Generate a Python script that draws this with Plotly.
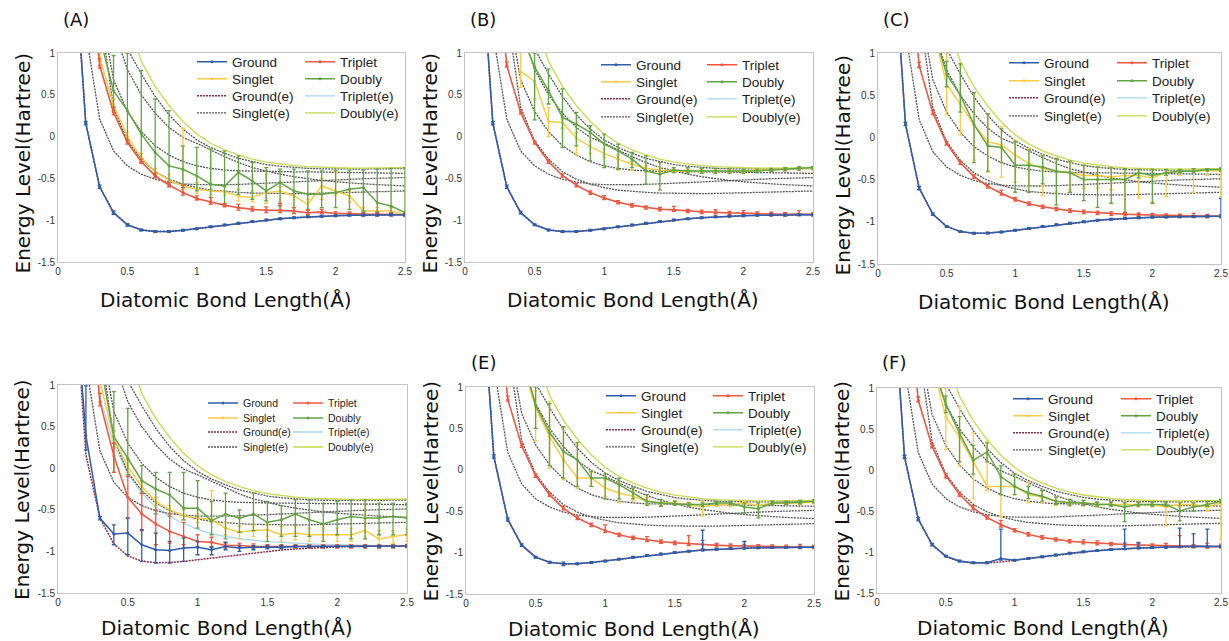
import plotly.graph_objects as go

W, H = 1229, 641

# ---------------- data ----------------
X = [0.1, 0.2, 0.3, 0.4, 0.5, 0.6, 0.7, 0.8, 0.9, 1.0, 1.1, 1.2, 1.3,
     1.4, 1.5, 1.6, 1.7, 1.8, 1.9, 2.0, 2.1, 2.2, 2.3, 2.4, 2.5]
X_TICKS = [0, 0.5, 1, 1.5, 2, 2.5]
X_TICKTEXT = ["0", "0.5", "1", "1.5", "2", "2.5"]
Y_TICKS = [-1.5, -1, -0.5, 0, 0.5, 1]
Y_TICKTEXT = ["-1.5", "-1", "-0.5", "0", "0.5", "1"]
PANEL_LABELS = ["(A)", "(B)", "(C)", "", "(E)", "(F)"]
# legend entries: (name, column, row)
LEGEND_ITEMS = [("Ground", 0, 0), ("Triplet", 1, 0), ("Singlet", 0, 1), ("Doubly", 1, 1),
                ("Ground(e)", 0, 2), ("Triplet(e)", 1, 2), ("Singlet(e)", 0, 3), ("Doubly(e)", 1, 3)]

# exact curves (shared by all panels)
GROUND_E = [2.6, 0.16, -0.60, -0.91, -1.055, -1.116, -1.136, -1.134, -1.120, -1.101, -1.079, -1.057, -1.036,
            -1.016, -0.998, -0.983, -0.970, -0.960, -0.952, -0.946, -0.942, -0.939, -0.937, -0.935, -0.934]
TRIPLET_E = [None, 2.6, 0.85, 0.29, -0.07, -0.30, -0.465, -0.58, -0.665, -0.735, -0.785, -0.822, -0.848,
             -0.868, -0.882, -0.894, -0.903, -0.910, -0.916, -0.921, -0.925, -0.928, -0.930, -0.932, -0.933]
SINGLET_E1 = [None, 1.25, 0.21, -0.17, -0.35, -0.45, -0.51, -0.545, -0.565, -0.575, -0.578, -0.576, -0.572,
              -0.567, -0.56, -0.552, -0.543, -0.534, -0.525, -0.517, -0.510, -0.504, -0.499, -0.494, -0.49]
SINGLET_E2 = [None, None, 1.5, 0.35, -0.05, -0.27, -0.42, -0.51, -0.57, -0.61, -0.64, -0.655, -0.667,
              -0.675, -0.68, -0.682, -0.682, -0.68, -0.677, -0.673, -0.669, -0.665, -0.66, -0.655, -0.65]
SINGLET_E3 = [None, None, 1.6, 0.68, 0.30, 0.06, -0.11, -0.22, -0.30, -0.35, -0.38, -0.40, -0.41,
              -0.415, -0.418, -0.42, -0.421, -0.422, -0.424, -0.426, -0.428, -0.43, -0.433, -0.436, -0.44]
SINGLET_E4 = [None, None, None, 1.3, 0.80, 0.50, 0.28, 0.11, -0.01, -0.08, -0.16, -0.24, -0.31,
              -0.37, -0.41, -0.45, -0.48, -0.505, -0.525, -0.54, -0.555, -0.565, -0.575, -0.583, -0.59]
SINGLET_E5 = [None, None, None, None, 1.05, 0.75, 0.48, 0.26, 0.09, -0.04, -0.13, -0.20, -0.26,
              -0.30, -0.335, -0.355, -0.37, -0.38, -0.385, -0.388, -0.389, -0.388, -0.386, -0.384, -0.382]
DOUBLY_E = [None, None, None, None, 1.4, 0.9, 0.60, 0.37, 0.18, 0.03, -0.08, -0.16, -0.22,
            -0.27, -0.305, -0.33, -0.347, -0.36, -0.368, -0.373, -0.376, -0.376, -0.374, -0.372, -0.37]

# ---- Panel A ----
A_ground = GROUND_E
A_ground_up = [0, 0.02, 0.02, 0.02, 0.015, 0.01, 0.01, 0.01, 0.01, 0.01, 0.01, 0.01, 0.01,
               0.01, 0.01, 0.01, 0.01, 0.01, 0.01, 0.01, 0.01, 0.01, 0.01, 0.01, 0.01]
A_ground_dn = A_ground_up
A_triplet = [None, 2.6, 0.85, 0.29, -0.07, -0.30, -0.47, -0.58, -0.67, -0.74, -0.78, -0.82, -0.85,
             -0.87, -0.88, -0.88, -0.89, -0.91, -0.90, -0.92, -0.92, -0.93, -0.93, -0.93, -0.935]
A_triplet_up = [0, 0, 0.08, 0.06, 0.03, 0.03, 0.03, 0.03, 0.09, 0.03, 0.05, 0.02, 0.04,
                0.03, 0.04, 0.08, 0.04, 0.03, 0.03, 0.02, 0.02, 0.02, 0.02, 0.02, 0.02]
A_triplet_dn = [0, 0, 0.03, 0.03, 0.02, 0.02, 0.02, 0.02, 0.03, 0.02, 0.03, 0.02, 0.03,
                0.02, 0.03, 0.03, 0.03, 0.02, 0.02, 0.02, 0.02, 0.02, 0.02, 0.02, 0.02]
A_singlet = [None, None, 0.95, 0.38, 0.0, -0.25, -0.42, -0.52, -0.59, -0.63, -0.65, -0.66, -0.71,
             -0.73, -0.67, -0.65, -0.71, -0.81, -0.59, -0.65, -0.71, -0.89, -0.89, -0.89, -0.93]
A_singlet_hi = [None, None, 1.0, 0.45, 0.05, -0.2, -0.38, -0.45, 0.1, -0.55, -0.15, -0.6, -0.63,
                -0.65, -0.45, -0.6, -0.65, -0.75, -0.5, -0.42, -0.65, -0.85, -0.85, -0.85, -0.9]
A_singlet_lo = [None, None, 0.9, 0.3, -0.05, -0.3, -0.45, -0.55, -0.63, -0.68, -0.7, -0.7, -0.77,
                -0.78, -0.8, -0.9, -0.85, -0.88, -0.75, -0.7, -0.78, -0.92, -0.92, -0.92, -0.95]
A_doubly = [None, None, 1.2, 0.55, 0.31, 0.03, -0.19, -0.35, -0.39, -0.47, -0.57, -0.59, -0.43,
            -0.53, -0.65, -0.55, -0.65, -0.69, -0.69, -0.67, -0.63, -0.61, -0.79, -0.83, -0.91]
A_doubly_hi = [None, None, None, 0.97, 1.0, 0.79, 0.45, 0.31, -0.11, -0.13, -0.15, -0.17, -0.23,
               -0.31, -0.37, -0.39, -0.39, -0.41, -0.41, -0.4, -0.4, -0.4, -0.39, -0.38, -0.37]
A_doubly_lo = [None, None, None, 0.31, -0.05, -0.31, -0.47, -0.57, -0.61, -0.65, -0.79, -0.81, -0.69,
               -0.75, -0.77, -0.83, -0.85, -0.87, -0.85, -0.85, -0.87, -0.89, -0.9, -0.92, -0.93]

# ---- Panel B ----
B_ground = GROUND_E
B_ground_up = [0, 0.02, 0.02, 0.015, 0.01, 0.01, 0.01, 0.01, 0.01, 0.01, 0.01, 0.01, 0.01,
               0.01, 0.01, 0.01, 0.01, 0.01, 0.01, 0.01, 0.01, 0.01, 0.01, 0.01, 0.01]
B_ground_dn = B_ground_up
B_triplet = [None, 2.6, 0.85, 0.29, -0.07, -0.30, -0.465, -0.58, -0.67, -0.735, -0.785, -0.822, -0.848,
             -0.868, -0.875, -0.89, -0.90, -0.905, -0.915, -0.915, -0.92, -0.925, -0.93, -0.925, -0.93]
B_triplet_up = [0, 0, 0.04, 0.03, 0.02, 0.02, 0.02, 0.02, 0.02, 0.03, 0.02, 0.02, 0.02,
                0.02, 0.04, 0.02, 0.02, 0.03, 0.02, 0.03, 0.02, 0.02, 0.02, 0.04, 0.02]
B_triplet_dn = [0, 0, 0.02, 0.02, 0.02, 0.02, 0.02, 0.02, 0.02, 0.02, 0.02, 0.02, 0.02,
                0.02, 0.02, 0.02, 0.02, 0.02, 0.02, 0.02, 0.02, 0.02, 0.02, 0.02, 0.02]
B_singlet = [None, None, None, 0.78, 0.66, 0.18, 0.17, -0.02, -0.12, -0.2, -0.27, -0.33, -0.38,
             -0.4, -0.41, -0.41, -0.41, -0.41, -0.41, -0.41, -0.4, -0.4, -0.39, -0.38, -0.38]
B_singlet_hi = [None, None, None, 1.05, 0.85, 0.35, 0.2, 0.05, -0.05, -0.15, -0.22, -0.3, -0.35,
                -0.37, -0.39, -0.39, -0.39, -0.39, -0.39, -0.39, -0.38, -0.38, -0.37, -0.36, -0.36]
B_singlet_lo = [None, None, None, 0.59, 0.45, 0.0, 0.1, -0.22, -0.2, -0.25, -0.4, -0.4, -0.42,
                -0.43, -0.43, -0.43, -0.43, -0.43, -0.43, -0.43, -0.42, -0.42, -0.41, -0.4, -0.4]
B_doubly = [None, None, None, 1.25, 0.83, 0.55, 0.23, 0.15, 0.05, -0.09, -0.17, -0.27, -0.41,
            -0.45, -0.4, -0.41, -0.41, -0.41, -0.41, -0.41, -0.41, -0.4, -0.39, -0.38, -0.37]
B_doubly_hi = [None, None, None, None, 1.0, 0.81, 0.57, 0.29, 0.13, 0.03, -0.09, -0.19, -0.23,
               -0.31, -0.37, -0.37, -0.38, -0.38, -0.38, -0.39, -0.39, -0.38, -0.37, -0.36, -0.36]
B_doubly_lo = [None, None, None, None, 0.2, 0.39, -0.13, -0.11, -0.29, -0.37, -0.39, -0.37, -0.57,
               -0.64, -0.43, -0.44, -0.44, -0.44, -0.44, -0.44, -0.43, -0.42, -0.41, -0.4, -0.39]

# ---- Panel C ----
C_ground = GROUND_E
C_ground_up = [0, 0.02, 0.02, 0.015, 0.01, 0.01, 0.01, 0.01, 0.01, 0.01, 0.01, 0.01, 0.01,
               0.01, 0.01, 0.01, 0.01, 0.01, 0.01, 0.01, 0.01, 0.01, 0.01, 0.01, 0.21]
C_ground_dn = [0, 0.02, 0.02, 0.015, 0.01, 0.01, 0.01, 0.01, 0.01, 0.01, 0.01, 0.01, 0.01,
               0.01, 0.01, 0.01, 0.01, 0.01, 0.01, 0.01, 0.01, 0.01, 0.01, 0.01, 0.01]
C_triplet = TRIPLET_E
C_triplet_up = [0, 0, 0.04, 0.03, 0.02, 0.02, 0.02, 0.02, 0.04, 0.02, 0.02, 0.02, 0.02,
                0.02, 0.02, 0.02, 0.02, 0.02, 0.02, 0.02, 0.02, 0.02, 0.03, 0.02, 0.02]
C_triplet_dn = [0, 0, 0.02, 0.02, 0.02, 0.02, 0.02, 0.02, 0.02, 0.02, 0.02, 0.02, 0.02,
                0.02, 0.02, 0.02, 0.02, 0.02, 0.02, 0.02, 0.02, 0.02, 0.02, 0.02, 0.02]
C_singlet = [None, None, None, 1.3, 0.63, 0.39, 0.15, -0.05, -0.09, -0.21, -0.31, -0.37, -0.4,
             -0.42, -0.45, -0.45, -0.47, -0.45, -0.45, -0.48, -0.42, -0.4, -0.4, -0.39, -0.4]
C_singlet_hi = [None, None, None, None, 1.0, 0.87, 0.53, 0.27, 0.13, -0.03, -0.13, -0.21, -0.25,
                -0.3, -0.33, -0.35, -0.36, -0.37, -0.38, -0.38, -0.38, -0.38, -0.37, -0.37, -0.36]
C_singlet_lo = [None, None, None, None, 0.27, 0.03, -0.27, -0.41, -0.47, -0.53, -0.58, -0.69, -0.65,
                -0.62, -0.6, -0.6, -0.62, -0.9, -0.72, -0.77, -0.7, -0.45, -0.65, -0.45, -0.7]
C_doubly = [None, None, None, 1.3, 0.75, 0.5, 0.15, -0.1, -0.12, -0.33, -0.33, -0.35, -0.4,
            -0.42, -0.5, -0.5, -0.5, -0.5, -0.42, -0.45, -0.42, -0.4, -0.4, -0.38, -0.38]
C_doubly_hi = [None, None, None, None, 0.9, 0.87, 0.53, 0.28, 0.1, -0.05, -0.15, -0.22, -0.25,
               -0.28, -0.33, -0.35, -0.36, -0.37, -0.38, -0.38, -0.38, -0.38, -0.37, -0.37, -0.36]
C_doubly_lo = [None, None, None, None, 0.6, 0.3, -0.3, -0.4, -0.3, -0.65, -0.65, -0.55, -0.8,
               -0.65, -0.75, -0.83, -0.78, -0.9, -0.48, -0.78, -0.45, -0.42, -0.42, -0.4, -0.4]

# ---- Panel D ----
D_ground = [2.6, 0.39, -0.6, -0.79, -0.78, -0.92, -0.98, -0.99, -0.96, -0.95, -0.98, -0.94, -0.96,
            -0.95, -0.95, -0.95, -0.94, -0.94, -0.94, -0.94, -0.94, -0.94, -0.94, -0.94, -0.935]
D_ground_up = [0, 0.6, 0.02, 0.11, 0.18, 0.18, 0.2, 0.11, 0.12, 0.07, 0.03, 0.05, 0.03,
               0.02, 0.02, 0.02, 0.01, 0.01, 0.01, 0.01, 0.01, 0.01, 0.01, 0.01, 0.01]
D_ground_dn = [0, 0.17, 0.02, 0.13, 0.26, 0.2, 0.16, 0.15, 0.16, 0.09, 0.06, 0.04, 0.04,
               0.03, 0.02, 0.02, 0.01, 0.01, 0.01, 0.01, 0.01, 0.01, 0.01, 0.01, 0.01]
D_triplet = [None, 2.6, 0.8, 0.15, -0.35, -0.55, -0.67, -0.76, -0.82, -0.88, -0.89, -0.93, -0.93,
             -0.94, -0.94, -0.94, -0.94, -0.94, -0.94, -0.94, -0.94, -0.94, -0.94, -0.94, -0.935]
D_triplet_up = [0, 0, 0.1, 0.15, 0.25, 0.25, 0.17, 0.21, 0.17, 0.08, 0.06, 0.03, 0.03,
                0.03, 0.02, 0.02, 0.02, 0.02, 0.02, 0.02, 0.02, 0.02, 0.02, 0.02, 0.02]
D_triplet_dn = [0, 0, 0.05, 0.2, 0.25, 0.2, 0.25, 0.14, 0.1, 0.07, 0.05, 0.03, 0.02,
                0.02, 0.02, 0.02, 0.02, 0.02, 0.02, 0.02, 0.02, 0.02, 0.02, 0.02, 0.02]
D_singlet = [None, None, 1.05, 0.35, 0.02, -0.22, -0.4, -0.5, -0.57, -0.6, -0.62, -0.72, -0.77,
             -0.75, -0.74, -0.8, -0.78, -0.8, -0.8, -0.8, -0.8, -0.75, -0.85, -0.82, -0.8]
D_singlet_hi = [None, None, None, 0.45, 0.1, -0.15, -0.35, -0.45, -0.5, -0.55, -0.27, -0.65, -0.7,
                -0.68, -0.68, -0.7, -0.7, -0.72, -0.72, -0.72, -0.72, -0.38, -0.75, -0.75, -0.72]
D_singlet_lo = [None, None, None, 0.25, -0.05, -0.3, -0.45, -0.55, -0.62, -0.65, -0.65, -0.8, -0.85,
                -0.82, -0.82, -0.88, -0.86, -0.88, -0.88, -0.88, -0.88, -0.85, -0.92, -0.9, -0.88]
D_doubly = [None, None, 1.3, 0.38, 0.12, -0.15, -0.25, -0.32, -0.48, -0.48, -0.63, -0.55, -0.6,
            -0.55, -0.65, -0.62, -0.55, -0.62, -0.67, -0.62, -0.58, -0.6, -0.6, -0.58, -0.6]
D_doubly_hi = [None, None, None, 0.92, 0.72, 0.03, -0.05, -0.05, -0.05, -0.15, -0.4, -0.3, -0.5,
               -0.3, -0.4, -0.45, -0.38, -0.38, -0.42, -0.4, -0.38, -0.38, -0.42, -0.42, -0.42]
D_doubly_lo = [None, None, None, -0.05, -0.08, -0.3, -0.55, -0.58, -0.62, -0.72, -0.8, -0.85, -0.77,
               -0.75, -0.88, -0.82, -0.82, -0.82, -0.88, -0.8, -0.85, -0.85, -0.8, -0.8, -0.8]

# ---- Panel E ----
E_ground = GROUND_E
E_ground_up = [0, 0.02, 0.02, 0.015, 0.01, 0.01, 0.02, 0.01, 0.01, 0.01, 0.01, 0.01, 0.01,
               0.01, 0.01, 0.01, 0.24, 0.01, 0.01, 0.08, 0.01, 0.01, 0.01, 0.01, 0.01]
E_ground_dn = [0, 0.02, 0.02, 0.015, 0.01, 0.01, 0.02, 0.01, 0.01, 0.01, 0.01, 0.01, 0.01,
               0.01, 0.01, 0.01, 0.01, 0.01, 0.01, 0.01, 0.01, 0.01, 0.01, 0.01, 0.01]
E_triplet = TRIPLET_E
E_triplet_up = [0, 0, 0.04, 0.03, 0.02, 0.02, 0.03, 0.02, 0.02, 0.07, 0.02, 0.02, 0.04,
                0.02, 0.02, 0.1, 0.05, 0.02, 0.02, 0.02, 0.02, 0.02, 0.02, 0.03, 0.02]
E_triplet_dn = [0, 0, 0.02, 0.02, 0.02, 0.02, 0.02, 0.02, 0.02, 0.02, 0.02, 0.02, 0.02,
                0.02, 0.02, 0.02, 0.05, 0.02, 0.02, 0.02, 0.02, 0.02, 0.02, 0.02, 0.02]
E_singlet = [None, None, None, 1.3, 0.75, 0.4, 0.12, -0.1, -0.1, -0.22, -0.28, -0.32, -0.38,
             -0.4, -0.4, -0.42, -0.45, -0.42, -0.42, -0.4, -0.43, -0.4, -0.4, -0.4, -0.39]
E_singlet_hi = [None, None, None, None, 0.95, 0.82, 0.52, 0.3, -0.03, -0.12, -0.15, -0.25, -0.33,
                -0.36, -0.37, -0.39, -0.38, -0.39, -0.39, -0.38, -0.4, -0.38, -0.38, -0.38, -0.37]
E_singlet_lo = [None, None, None, None, 0.35, 0.02, -0.12, -0.22, -0.2, -0.32, -0.4, -0.38, -0.42,
                -0.43, -0.42, -0.44, -0.56, -0.44, -0.44, -0.43, -0.45, -0.42, -0.42, -0.42, -0.41]
E_doubly = [None, None, None, 1.4, 0.78, 0.45, 0.22, 0.12, -0.1, -0.1, -0.18, -0.28, -0.38,
            -0.4, -0.41, -0.42, -0.42, -0.4, -0.4, -0.45, -0.47, -0.4, -0.4, -0.39, -0.38]
E_doubly_hi = [None, None, None, None, 1.0, 0.8, 0.52, 0.33, -0.02, -0.05, -0.1, -0.22, -0.3,
               -0.36, -0.38, -0.4, -0.4, -0.38, -0.38, -0.4, -0.4, -0.38, -0.38, -0.37, -0.36]
E_doubly_lo = [None, None, None, None, 0.5, 0.05, -0.1, -0.2, -0.2, -0.35, -0.35, -0.35, -0.43,
               -0.44, -0.43, -0.44, -0.44, -0.42, -0.42, -0.52, -0.58, -0.42, -0.42, -0.41, -0.4]

# ---- Panel F ----
F_ground = [2.6, 0.16, -0.6, -0.91, -1.05, -1.11, -1.13, -1.13, -1.08, -1.1, -1.08, -1.057, -1.036,
            -1.016, -0.998, -0.983, -0.970, -0.96, -0.952, -0.946, -0.942, -0.93, -0.93, -0.93, -0.934]
F_ground_up = [0, 0.02, 0.02, 0.015, 0.01, 0.01, 0.01, 0.01, 0.36, 0.01, 0.01, 0.01, 0.01,
               0.01, 0.01, 0.01, 0.01, 0.24, 0.07, 0.01, 0.01, 0.22, 0.15, 0.21, 0.01]
F_ground_dn = [0, 0.02, 0.02, 0.015, 0.01, 0.01, 0.01, 0.01, 0.02, 0.01, 0.01, 0.01, 0.01,
               0.01, 0.01, 0.01, 0.01, 0.01, 0.01, 0.01, 0.01, 0.01, 0.01, 0.01, 0.01]
F_triplet = [None, 2.6, 0.85, 0.29, -0.07, -0.30, -0.465, -0.58, -0.665, -0.735, -0.785, -0.822, -0.848,
             -0.868, -0.882, -0.894, -0.903, -0.910, -0.916, -0.921, -0.925, -0.93, -0.930, -0.932, -0.933]
F_triplet_up = [0, 0, 0.04, 0.03, 0.03, 0.03, 0.03, 0.02, 0.05, 0.02, 0.02, 0.02, 0.02,
                0.02, 0.03, 0.03, 0.02, 0.02, 0.02, 0.02, 0.03, 0.13, 0.02, 0.04, 0.03]
F_triplet_dn = [0, 0, 0.02, 0.02, 0.03, 0.02, 0.02, 0.02, 0.03, 0.02, 0.02, 0.02, 0.02,
                0.02, 0.02, 0.02, 0.02, 0.02, 0.02, 0.02, 0.02, 0.02, 0.02, 0.02, 0.02]
F_singlet = [None, None, None, 1.3, 0.65, 0.4, 0.1, -0.2, -0.2, -0.2, -0.3, -0.33, -0.38,
             -0.4, -0.4, -0.42, -0.42, -0.42, -0.42, -0.42, -0.45, -0.42, -0.42, -0.45, -0.4]
F_singlet_hi = [None, None, None, None, 1.0, 0.78, 0.45, 0.35, -0.1, -0.05, -0.15, -0.25, -0.33,
                -0.36, -0.37, -0.39, -0.39, -0.39, -0.39, -0.39, -0.4, -0.39, -0.39, -0.4, -0.37]
F_singlet_lo = [None, None, None, None, 0.25, 0.05, -0.35, -0.25, -0.57, -0.3, -0.4, -0.4, -0.43,
                -0.44, -0.44, -0.45, -0.45, -0.45, -0.45, -0.45, -0.68, -0.45, -0.45, -0.5, -0.85]
F_doubly = [None, None, None, 1.3, 0.8, 0.45, 0.12, 0.22, -0.08, -0.2, -0.28, -0.32, -0.38,
            -0.4, -0.4, -0.42, -0.42, -0.45, -0.42, -0.42, -0.42, -0.5, -0.45, -0.42, -0.38]
F_doubly_hi = [None, None, None, None, 0.9, 0.65, 0.3, 0.33, 0.05, -0.05, -0.2, -0.25, -0.33,
               -0.36, -0.37, -0.39, -0.39, -0.4, -0.39, -0.39, -0.39, -0.4, -0.4, -0.38, -0.36]
F_doubly_lo = [None, None, None, None, 0.7, 0.1, -0.05, 0.1, -0.3, -0.3, -0.35, -0.38, -0.42,
               -0.43, -0.43, -0.44, -0.44, -0.63, -0.44, -0.44, -0.44, -0.62, -0.5, -0.44, -0.4]

PANELS = [
    (A_ground, A_ground_up, A_ground_dn, A_triplet, A_triplet_up, A_triplet_dn,
     A_singlet, A_singlet_hi, A_singlet_lo, A_doubly, A_doubly_hi, A_doubly_lo),
    (B_ground, B_ground_up, B_ground_dn, B_triplet, B_triplet_up, B_triplet_dn,
     B_singlet, B_singlet_hi, B_singlet_lo, B_doubly, B_doubly_hi, B_doubly_lo),
    (C_ground, C_ground_up, C_ground_dn, C_triplet, C_triplet_up, C_triplet_dn,
     C_singlet, C_singlet_hi, C_singlet_lo, C_doubly, C_doubly_hi, C_doubly_lo),
    (D_ground, D_ground_up, D_ground_dn, D_triplet, D_triplet_up, D_triplet_dn,
     D_singlet, D_singlet_hi, D_singlet_lo, D_doubly, D_doubly_hi, D_doubly_lo),
    (E_ground, E_ground_up, E_ground_dn, E_triplet, E_triplet_up, E_triplet_dn,
     E_singlet, E_singlet_hi, E_singlet_lo, E_doubly, E_doubly_hi, E_doubly_lo),
    (F_ground, F_ground_up, F_ground_dn, F_triplet, F_triplet_up, F_triplet_dn,
     F_singlet, F_singlet_hi, F_singlet_lo, F_doubly, F_doubly_hi, F_doubly_lo),
]

# ---------------- layout (pixels) ----------------
DOMAINS = [  # x0, x1, ytop, ybottom
    (58, 405, 53, 262), (465, 813, 53, 262), (878, 1221, 53, 264),
    (58, 407, 385, 593), (466, 814, 387, 594), (877, 1221, 388, 593),
]
# legend: text x of column 1, text x of column 2, row-centre y's, font size
LEGEND_POS = [
    (232, 340, (62, 79, 96, 113), 13.5),
    (636, 742, (65, 82, 99, 117), 13.5),
    (1044, 1152, (63, 81, 98, 116), 13.5),
    (243, 328, (403, 418, 432, 447), 10.5),
    (641, 748, (396, 413, 430, 447), 13.5),
    (1048, 1156, (399, 416, 433, 450), 13.5),
]

C_GROUND = "#2f5da8"
C_TRIPLET = "#f2563c"
C_SINGLET = "#f8cc46"
C_DOUBLY = "#62a443"
C_GROUND_E = "#8a2846"
C_TRIPLET_E = "#a8d6f2"
C_SINGLET_E = "#555555"
C_DOUBLY_E = "#c6da4c"

TICKFONT = dict(family="Liberation Sans, Arial, sans-serif", size=10, color="#333333")
TITLEFONT = dict(family="DejaVu Sans, Verdana, sans-serif", size=20, color="#111111")
FINE_DOT = "2px,1px"


def px_x(v):
    return v / W


def px_y(v):
    return 1 - v / H


def errs(mean, hi, lo):
    up, dn = [], []
    for m, h, l in zip(mean, hi, lo):
        if m is None or m > 1:
            up.append(0)
            dn.append(0)
            continue
        up.append(max(h - m, 0) if h is not None else 0)
        dn.append(max(m - l, 0) if l is not None else 0)
    return up, dn


def clean_err(mean, e):
    return [0 if (m is None or m > 1) else v for m, v in zip(mean, e)]


fig = go.Figure()
layout = dict(
    width=W, height=H, margin=dict(l=0, r=0, t=0, b=0),
    paper_bgcolor="white", plot_bgcolor="white", showlegend=True,
    annotations=[],
)

for i, (d, lg, data) in enumerate(zip(DOMAINS, LEGEND_POS, PANELS)):
    k = i + 1
    xa = "x" if k == 1 else f"x{k}"
    ya = "y" if k == 1 else f"y{k}"
    x0, x1, yt, yb = d
    axis_common = dict(showgrid=False, zeroline=False, showline=True, mirror=True,
                       linecolor="#c4c4c4", linewidth=1, ticks="", tickfont=TICKFONT,
                       automargin=False, fixedrange=True)
    layout["xaxis" + ("" if k == 1 else str(k))] = dict(
        domain=[px_x(x0), px_x(x1)], anchor=ya, range=[0, 2.5],
        tickmode="array", tickvals=X_TICKS, ticktext=X_TICKTEXT, **axis_common)
    layout["yaxis" + ("" if k == 1 else str(k))] = dict(
        domain=[px_y(yb), px_y(yt)], anchor=xa, range=[-1.5, 1],
        tickmode="array", tickvals=Y_TICKS, ticktext=Y_TICKTEXT, **axis_common)

    # one single-entry legend per legend item, placed on the 2 x 4 grid
    c1x, c2x, rows, lfs = lg
    item_leg = {}
    for j, (name, col, row) in enumerate(LEGEND_ITEMS):
        lname = f"legend{2 + 8 * i + j}"
        item_leg[name] = lname
        tx = c1x if col == 0 else c2x
        layout[lname] = dict(
            orientation="h", x=px_x(tx - 40), y=px_y(rows[row]), xanchor="left", yanchor="middle",
            bgcolor="rgba(0,0,0,0)", borderwidth=0, itemwidth=30,
            font=dict(family="Liberation Sans, Arial, sans-serif", size=lfs, color="#222222"))

    (g, gu, gd, t, tu, td, s, sh, sl, db, dh, dl) = data

    # exact curves (drawn beneath)
    def exact(y, name, color, dash, show, width=1.3):
        fig.add_trace(go.Scatter(x=X, y=y, mode="lines", name=name, xaxis=xa, yaxis=ya,
                                 line=dict(color=color, width=width, dash=dash),
                                 legend=item_leg[name], showlegend=show,
                                 hoverinfo="skip"))

    exact(GROUND_E, "Ground(e)", C_GROUND_E, FINE_DOT, True, 1.5)
    exact(TRIPLET_E, "Triplet(e)", C_TRIPLET_E, "solid", True)
    exact(SINGLET_E1, "Singlet(e)", C_SINGLET_E, FINE_DOT, True)
    for sc in (SINGLET_E2, SINGLET_E3, SINGLET_E4, SINGLET_E5):
        exact(sc, "Singlet(e)", C_SINGLET_E, FINE_DOT, False)
    exact(DOUBLY_E, "Doubly(e)", C_DOUBLY_E, "solid", True)

    # measured curves with error bars
    def measured(y, up, dn, name, color):
        fig.add_trace(go.Scatter(
            x=X, y=y, mode="lines+markers", name=name, xaxis=xa, yaxis=ya,
            line=dict(color=color, width=1.5), marker=dict(size=3, color=color),
            error_y=dict(type="data", symmetric=False, array=up, arrayminus=dn,
                         color=color, thickness=1.3, width=2),
            legend=item_leg[name], showlegend=True, hoverinfo="skip"))

    su, sd = errs(s, sh, sl)
    du, dd = errs(db, dh, dl)
    measured(s, su, sd, "Singlet", C_SINGLET)
    measured(db, du, dd, "Doubly", C_DOUBLY)
    measured(t, clean_err(t, tu), clean_err(t, td), "Triplet", C_TRIPLET)
    measured(g, clean_err(g, gu), clean_err(g, gd), "Ground", C_GROUND)

    # panel texts
    ymid = (yt + yb) / 2 + (6 if k <= 3 else 1)
    layout["annotations"].append(dict(
        text="Energy Level(Hartree)", x=px_x(x0 - 36), y=px_y(ymid), xref="paper", yref="paper",
        textangle=-90, showarrow=False, xanchor="center", yanchor="middle", font=TITLEFONT))
    layout["annotations"].append(dict(
        text="Diatomic Bond Length(Å)", x=px_x((x0 + x1) / 2 - 6),
        y=px_y(yb + (38 if k <= 3 else 35)),
        xref="paper", yref="paper", showarrow=False, xanchor="center", yanchor="middle",
        font=TITLEFONT))
    if PANEL_LABELS[i]:
        layout["annotations"].append(dict(
            text=PANEL_LABELS[i], x=px_x(x0 + 3), y=px_y(20 if k <= 3 else 362),
            xref="paper", yref="paper", showarrow=False, xanchor="left", yanchor="middle",
            font=dict(family="DejaVu Sans, Verdana, sans-serif", size=18, color="#111111")))

fig.update_layout(**layout)
fig.write_html("out.html", config={"displayModeBar": False},
               post_script="document.body.style.margin='0';document.body.style.padding='0';"
                           "document.body.style.overflow='hidden';")
